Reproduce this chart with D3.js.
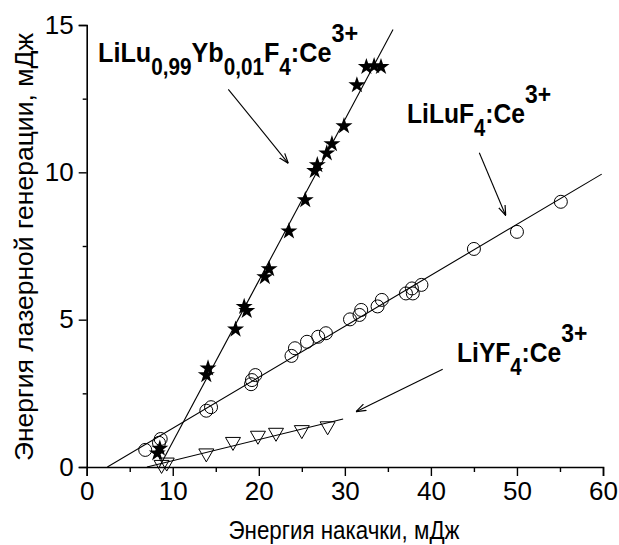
<!DOCTYPE html>
<html>
<head>
<meta charset="utf-8">
<script src="https://cdn.jsdelivr.net/npm/d3@7"></script>
<style>
  html, body { margin: 0; padding: 0; background: #fff; }
  svg { display: block; }
  text { font-family: "Liberation Sans", Arial, Helvetica, sans-serif; fill: #000; }
</style>
</head>
<body>
<svg id="chart" width="619" height="545"></svg>
<script>
// LiLu0.99Yb0.01F4:Ce3+ (stars)
const starX = [8.2, 8.5, 13.9, 14.1, 17.3, 18.3, 18.6, 20.7, 21.2, 23.5, 25.4, 26.5, 26.8, 27.9, 28.5, 29.9, 31.4, 32.5, 33.4, 34.2];
const starY = [0.47, 0.63, 3.12, 3.35, 4.67, 5.44, 5.30, 6.45, 6.72, 8.0, 9.06, 10.05, 10.25, 10.65, 10.96, 11.57, 12.96, 13.58, 13.61, 13.58];
// LiLuF4:Ce3+ (open circles)
const circleX = [6.8, 8.4, 8.6, 13.9, 14.45, 19.1, 19.2, 19.6, 23.8, 24.2, 25.6, 26.9, 27.8, 30.6, 31.7, 31.9, 33.8, 34.3, 37.1, 37.8, 37.9, 38.9, 45.0, 50.0, 55.1];
const circleY = [0.58, 0.82, 0.95, 1.91, 2.03, 2.81, 2.95, 3.12, 3.77, 4.03, 4.25, 4.42, 4.54, 5.01, 5.16, 5.33, 5.45, 5.67, 5.89, 6.06, 5.89, 6.18, 7.40, 7.98, 9.0];
// LiYF4:Ce3+ (open triangles)
const triX = [8.7, 9.3, 13.9, 17.0, 19.9, 22.0, 25.0, 28.0];
const triY = [0.02, 0.10, 0.41, 0.80, 1.01, 1.11, 1.20, 1.33];

// linear fits: [x, y] end points
const starFit = [[8.44, 0], [35.6, 14.85]];
const circleFit = [[2.4, 0], [59.85, 9.94]];
const triFit = [[7.0, 0], [29.8, 1.63]];

const xTicks = [0, 10, 20, 30, 40, 50, 60];
const xMinor = [5, 15, 25, 35, 45, 55];
const yTicks = [0, 5, 10, 15];
const yMinor = [2.5, 7.5, 12.5];

const svg = d3.select("#chart");
const x = d3.scaleLinear().domain([0, 60]).range([86.7, 603]);
const y = d3.scaleLinear().domain([0, 15]).range([467, 25]);

// axes: major ticks with labels, minor ticks without
svg.append("g").attr("transform", `translate(0,${y(0)})`)
  .call(d3.axisBottom(x).tickValues(xTicks).tickSize(9).tickPadding(6).tickFormat(d3.format("d")));
svg.append("g").attr("transform", `translate(0,${y(0)})`)
  .call(d3.axisBottom(x).tickValues(xMinor).tickSize(5).tickFormat(""))
  .select(".domain").remove();

svg.append("g").attr("transform", `translate(${x(0)},0)`)
  .call(d3.axisLeft(y).tickValues(yTicks).tickSize(8).tickPadding(5).tickFormat(d3.format("d")));
svg.append("g").attr("transform", `translate(${x(0)},0)`)
  .call(d3.axisLeft(y).tickValues(yMinor).tickSize(4).tickFormat(""))
  .select(".domain").remove();

svg.selectAll(".domain").attr("stroke", "#000").attr("stroke-width", 1.6);
svg.selectAll(".tick line").attr("stroke", "#000").attr("stroke-width", 1.4);
svg.selectAll(".tick text")
  .attr("font-size", 26)
  .attr("font-family", "Liberation Sans, Arial, sans-serif")
  .attr("fill", "#000");

// axis titles
svg.append("text")
  .attr("x", 344).attr("y", 539)
  .attr("text-anchor", "middle")
  .attr("font-size", 26)
  .attr("transform", "translate(344,0) scale(0.86,1) translate(-344,0)")
  .text("Энергия накачки, мДж");
svg.append("text")
  .attr("transform", "translate(33,247) rotate(-90)")
  .attr("text-anchor", "middle")
  .attr("font-size", 26.5)
  .text("Энергия лазерной генерации, мДж");

// fit lines
const line = d3.line().x(d => x(d[0])).y(d => y(d[1]));
[starFit, circleFit, triFit].forEach(f => {
  svg.append("path").attr("d", line(f)).attr("fill", "none").attr("stroke", "#000").attr("stroke-width", 1.1);
});

// markers
svg.append("g").selectAll("circle").data(circleX).join("circle")
  .attr("cx", d => x(d)).attr("cy", (d, i) => y(circleY[i])).attr("r", 6.5)
  .attr("fill", "none").attr("stroke", "#000").attr("stroke-width", 1);

const tri = "M-7.5,-6L7.5,-6L0,7Z";
svg.append("g").selectAll("path").data(triX).join("path")
  .attr("transform", (d, i) => `translate(${x(d)},${y(triY[i])})`)
  .attr("d", tri).attr("fill", "none").attr("stroke", "#000").attr("stroke-width", 1);

const star = d3.symbol().type(d3.symbolStar).size(90);
svg.append("g").selectAll("path").data(starX).join("path")
  .attr("transform", (d, i) => `translate(${x(d)},${y(starY[i])})`)
  .attr("d", star()).attr("fill", "#000");

// arrows
svg.append("defs").append("marker")
  .attr("id", "head").attr("viewBox", "0 0 10 10").attr("refX", 10).attr("refY", 5)
  .attr("markerWidth", 10).attr("markerHeight", 10).attr("markerUnits", "userSpaceOnUse")
  .attr("orient", "auto")
  .append("path").attr("d", "M0,1.5L10,5L0,8.5").attr("fill", "none").attr("stroke", "#000").attr("stroke-width", 1.2);

const arrows = [
  [[228.3, 89.3], [288.3, 163.3]],
  [[479.3, 152.7], [505.7, 215.5]],
  [[442.7, 369.3], [356, 411.7]]
];
arrows.forEach(a => {
  svg.append("line")
    .attr("x1", a[0][0]).attr("y1", a[0][1]).attr("x2", a[1][0]).attr("y2", a[1][1])
    .attr("stroke", "#000").attr("stroke-width", 1.1).attr("marker-end", "url(#head)");
});

// series labels with sub/superscripts
function label(x0, y0, parts, sx) {
  const g = svg.append("g").attr("transform", `translate(${x0},${y0}) scale(${sx},1)`);
  const t = g.append("text").attr("font-weight", "bold").attr("font-size", 28);
  let cur = 0;
  parts.forEach(p => {
    const shift = p[1] === "sub" ? 13 : p[1] === "sup" ? -20 : 0;
    t.append("tspan").attr("dy", shift - cur)
      .attr("font-size", p[1] === "sub" ? 23 : p[1] === "sup" ? 26 : 28)
      .text(p[0]);
    cur = shift;
  });
}
label(98, 62, [["LiLu"], ["0,99", "sub"], ["Yb"], ["0,01", "sub"], ["F"], ["4", "sub"], [":Ce"], ["3+", "sup"]], 0.9);
label(407, 123, [["LiLuF"], ["4", "sub"], [":Ce"], ["3+", "sup"]], 0.88);
label(457, 362, [["LiYF"], ["4", "sub"], [":Ce"], ["3+", "sup"]], 0.88);
</script>
</body>
</html>
